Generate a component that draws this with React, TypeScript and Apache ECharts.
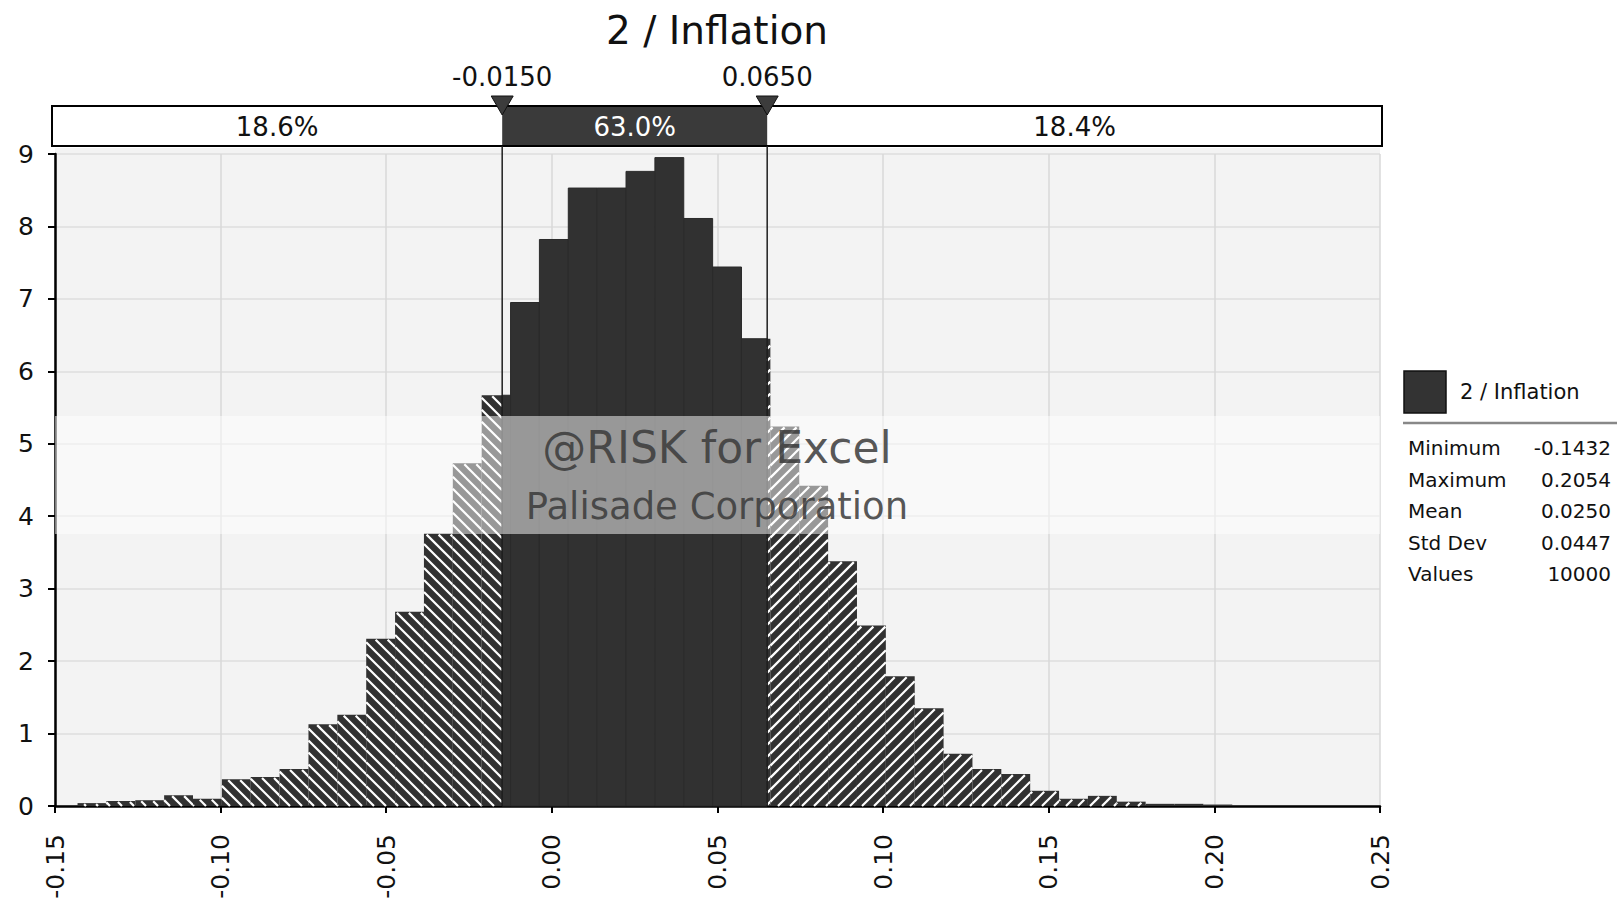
import React, { useEffect, useRef } from 'react';
import * as echarts from 'echarts';

// ---------- data ----------
const TITLE = '2 / Inflation';
const SERIES_NAME = '2 / Inflation';
const BIN_MIN = -0.1432;
const BIN_MAX = 0.2054;
// probability density of each of the 40 bins
const DENSITY = [
  0.04, 0.07, 0.08, 0.15, 0.1, 0.37, 0.4, 0.51, 1.13, 1.26,
  2.31, 2.68, 3.76, 4.73, 5.67, 6.95, 7.82, 8.53, 8.53, 8.76,
  8.95, 8.11, 7.44, 6.45, 5.24, 4.42, 3.38, 2.49, 1.79, 1.35,
  0.72, 0.51, 0.44, 0.21, 0.1, 0.14, 0.06, 0.03, 0.03, 0.02,
];
const THRESHOLDS = [-0.015, 0.065];
const REGION_PCTS = ['18.6%', '63.0%', '18.4%'];
const X_MIN = -0.15;
const X_MAX = 0.25;
const X_STEP = 0.05;
const Y_MIN = 0;
const Y_MAX = 9;
const Y_STEP = 1;
const STAT_NAMES = ['Minimum', 'Maximum', 'Mean', 'Std Dev', 'Values'];
const STAT_VALUES = ['-0.1432', '0.2054', '0.0250', '0.0447', '10000'];
const WATERMARK = ['@RISK for Excel', 'Palisade Corporation'];

const FONT = "'DejaVu Sans', Verdana, sans-serif";
const BAR_DARK = '#313131';

export default function App() {
  const ref = useRef<HTMLDivElement>(null);

  useEffect(() => {
    const chart = echarts.init(ref.current as HTMLDivElement, null, { renderer: 'svg' });

    const binWidth = (BIN_MAX - BIN_MIN) / DENSITY.length;
    const histData = DENSITY.map((h, i) => [BIN_MIN + i * binWidth, BIN_MIN + (i + 1) * binWidth, h]);
    const HATCH = 12;

    const hatchLines = (a: number, b: number, yt: number, yb: number, dir: 'L' | 'R') => {
      const out: any[] = [];
      const top = yt + 1;
      if (yb - top < 1.5 || b - a < 1) return out;
      const lineStyle = { stroke: '#ffffff', lineWidth: 2.2 };
      if (dir === 'L') {
        // y = x + c
        const kMin = Math.ceil((top - b) / HATCH);
        const kMax = Math.floor((yb - a) / HATCH);
        for (let k = kMin; k <= kMax; k++) {
          const c = k * HATCH;
          const xa = Math.max(a, top - c);
          const xb = Math.min(b, yb - c);
          if (xb - xa > 0.3) {
            out.push({ type: 'line', shape: { x1: xa, y1: xa + c, x2: xb, y2: xb + c }, style: lineStyle });
          }
        }
      } else {
        // x + y = c
        const kMin = Math.ceil((a + top) / HATCH);
        const kMax = Math.floor((b + yb) / HATCH);
        for (let k = kMin; k <= kMax; k++) {
          const c = k * HATCH;
          const xa = Math.max(a, c - yb);
          const xb = Math.min(b, c - top);
          if (xb - xa > 0.3) {
            out.push({ type: 'line', shape: { x1: xa, y1: c - xa, x2: xb, y2: c - xb }, style: lineStyle });
          }
        }
      }
      return out;
    };

    const renderBin = (params: any, api: any) => {
      const s = api.value(0);
      const e = api.value(1);
      const h = api.value(2);
      const p0 = api.coord([s, 0]);
      const p1 = api.coord([e, h]);
      const x0 = p0[0], yb = p0[1], x1 = p1[0], yt = p1[1];
      const tl = api.coord([THRESHOLDS[0], 0])[0];
      const tr = api.coord([THRESHOLDS[1], 0])[0];
      const segs: [number, number, string][] = [];
      if (x0 < tl) segs.push([x0, Math.min(x1, tl), 'L']);
      if (x1 > tl && x0 < tr) segs.push([Math.max(x0, tl), Math.min(x1, tr), 'M']);
      if (x1 > tr) segs.push([Math.max(x0, tr), x1, 'R']);
      const children: any[] = [];
      segs.forEach(([a, b, kind]) => {
        children.push({
          type: 'rect',
          shape: { x: a, y: yt, width: b - a, height: yb - yt },
          style: kind === 'M' ? { fill: BAR_DARK, stroke: '#2a2a2a', lineWidth: 1 } : { fill: BAR_DARK },
        });
        if (kind !== 'M') children.push(...hatchLines(a, b, yt, yb, kind as 'L' | 'R'));
      });
      return { type: 'group', children };
    };

    const renderDeco = (params: any, api: any) => {
      const cs = params.coordSys;
      const tl = api.coord([api.value(0), 0])[0];
      const tr = api.coord([api.value(1), 0])[0];
      const barTop = cs.y - 48;
      const barH = 40;
      const left = cs.x - 3;
      const right = cs.x + cs.width + 2;
      const children: any[] = [];
      children.push({
        type: 'rect',
        shape: { x: left, y: barTop, width: right - left, height: barH },
        style: { fill: '#ffffff', stroke: '#000000', lineWidth: 2 },
      });
      children.push({
        type: 'rect',
        shape: { x: tl, y: barTop + 1, width: tr - tl, height: barH - 2 },
        style: { fill: '#3a3a3a' },
      });
      const centers = [(left + tl) / 2, (tl + tr) / 2, (tr + right) / 2];
      REGION_PCTS.forEach((t, i) => {
        children.push({
          type: 'text',
          x: centers[i],
          y: barTop + barH / 2 + 1,
          style: {
            text: t, fill: i === 1 ? '#ffffff' : '#111111', fontSize: 26, fontFamily: FONT,
            align: 'center', verticalAlign: 'middle', textAlign: 'center', textVerticalAlign: 'middle',
          },
        });
      });
      [tl, tr].forEach((t, i) => {
        children.push({
          type: 'line',
          shape: { x1: t, y1: barTop + barH, x2: t, y2: cs.y + cs.height },
          style: { stroke: '#1e1e1e', lineWidth: 1.5 },
        });
        children.push({
          type: 'polygon',
          shape: { points: [[t - 11, barTop - 10], [t + 11, barTop - 10], [t, barTop + 9]] },
          style: { fill: '#3c3c3c', stroke: '#111111', lineWidth: 1 },
        });
        children.push({
          type: 'text',
          x: t,
          y: barTop - 29,
          style: {
            text: THRESHOLDS[i].toFixed(4), fill: '#111111', fontSize: 26, fontFamily: FONT,
            align: 'center', verticalAlign: 'middle', textAlign: 'center', textVerticalAlign: 'middle',
          },
        });
      });
      return { type: 'group', children };
    };

    const textStyle = (text: string, size: number, fill: string, align = 'left') => ({
      text, fill, fontSize: size, fontFamily: FONT,
      textAlign: align, textVerticalAlign: 'middle', align, verticalAlign: 'middle',
    });

    const graphic: any[] = [
      // plot background
      { type: 'rect', z: -1, shape: { x: 55, y: 148, width: 1325, height: 658 }, style: { fill: '#f3f3f3' } },
      // title
      { type: 'text', x: 717, y: 30, style: textStyle(TITLE, 39, '#111111', 'center') },
      // watermark band
      { type: 'rect', z: 100, shape: { x: 55, y: 416, width: 1325, height: 118 }, style: { fill: 'rgba(255,255,255,0.5)' } },
      { type: 'text', z: 101, x: 717, y: 447, style: { ...textStyle(WATERMARK[0], 44, '#3a3a3a', 'center'), opacity: 0.85 } },
      { type: 'text', z: 101, x: 717, y: 506, style: { ...textStyle(WATERMARK[1], 37, '#3a3a3a', 'center'), opacity: 0.85 } },
      // legend
      { type: 'rect', shape: { x: 1404, y: 371, width: 42, height: 42 }, style: { fill: '#333333', stroke: '#111111', lineWidth: 1.5 } },
      { type: 'text', x: 1460, y: 392, style: textStyle(SERIES_NAME, 21, '#111111') },
      { type: 'line', shape: { x1: 1403, y1: 423, x2: 1617, y2: 423 }, style: { stroke: '#888888', lineWidth: 2.5 } },
    ];
    STAT_NAMES.forEach((n, i) => {
      const y = 448 + i * 31.5;
      graphic.push({ type: 'text', x: 1408, y, style: textStyle(n, 20, '#111111') });
      graphic.push({ type: 'text', x: 1611, y, style: textStyle(STAT_VALUES[i], 20, '#111111', 'right') });
    });

    chart.setOption({
      animation: false,
      backgroundColor: '#ffffff',
      grid: { left: 55, right: 243, top: 154, bottom: 96, containLabel: false },
      xAxis: {
        type: 'value',
        min: X_MIN,
        max: X_MAX,
        interval: X_STEP,
        axisLine: { show: true, onZero: false, lineStyle: { color: '#000000', width: 2.5 } },
        axisTick: { show: true, length: 7, lineStyle: { color: '#000000', width: 2 } },
        axisLabel: {
          rotate: 90,
          margin: 28,
          color: '#111111',
          fontSize: 25,
          fontFamily: FONT,
          formatter: (v: number) => (Math.abs(v) < 1e-9 ? 0 : v).toFixed(2),
        },
        splitLine: { show: true, lineStyle: { color: '#d9d9d9', width: 1.5 } },
      },
      yAxis: {
        type: 'value',
        min: Y_MIN,
        max: Y_MAX,
        interval: Y_STEP,
        axisLine: { show: true, onZero: false, lineStyle: { color: '#000000', width: 2.5 } },
        axisTick: { show: true, length: 7, lineStyle: { color: '#000000', width: 2 } },
        axisLabel: { margin: 21, color: '#111111', fontSize: 25, fontFamily: FONT },
        splitLine: { show: true, lineStyle: { color: '#dedede', width: 1.5 } },
      },
      series: [
        {
          type: 'custom',
          name: SERIES_NAME,
          renderItem: renderBin,
          data: histData,
          encode: { x: [0, 1], y: 2 },
          z: 2,
        },
        {
          type: 'custom',
          name: 'thresholds',
          renderItem: renderDeco,
          clip: false,
          data: [[THRESHOLDS[0], THRESHOLDS[1], 0]],
          encode: { x: [0, 1], y: 2 },
          z: 3,
        },
      ],
      graphic,
    });

    return () => chart.dispose();
  }, []);

  return (
    <div
      ref={ref}
      style={{ position: 'fixed', left: 0, top: 0, width: 1623, height: 902, background: '#ffffff' }}
    />
  );
}
